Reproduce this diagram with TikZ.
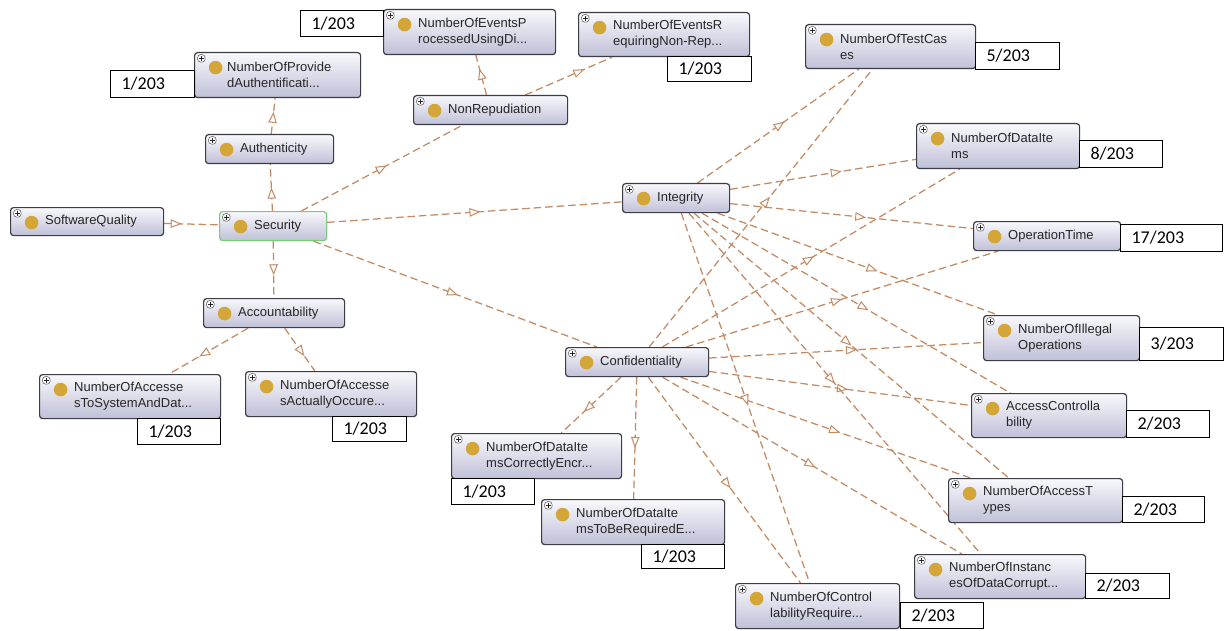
\documentclass[tikz,border=0pt]{standalone}
\usepackage{fontspec}
\newfontfamily\lblfont{Liberation Sans}
\newfontfamily\cntfont{Carlito}
\usetikzlibrary{arrows.meta,decorations.markings,backgrounds,calc}
\definecolor{edgecol}{RGB}{196,138,98}
\definecolor{boxtop}{RGB}{248,248,252}
\definecolor{boxbot}{RGB}{192,192,216}
\definecolor{boxline}{RGB}{60,60,70}
\definecolor{gold}{RGB}{212,165,55}
\definecolor{selgreen}{RGB}{120,205,120}
\tikzset{
  cls/.style={rectangle, rounded corners=3pt, draw=boxline, line width=1.2pt,
    top color=boxtop, bottom color=boxbot, anchor=north west, inner sep=0pt,
    path picture={
      \fill[gold] ([xshift=21pt,yshift=-15pt]path picture bounding box.north west) circle (6.8pt);
      \draw[line width=0.5pt, draw=black!70, fill=white]
        ([xshift=3pt,yshift=-2pt]path picture bounding box.north west) rectangle ++(7.5pt,-7.5pt);
      \draw[line width=0.7pt, draw=black!85]
        ([xshift=4.5pt,yshift=-5.75pt]path picture bounding box.north west) -- ++(4.5pt,0pt)
        ([xshift=6.75pt,yshift=-3.5pt]path picture bounding box.north west) -- ++(0pt,-4.5pt);
    }},
  lbl/.style={anchor=west, font=\lblfont\fontsize{13}{16}\selectfont, text=black!85,
    align=left, inner sep=0pt},
  cnt/.style={draw=black, line width=1.2pt, fill=white, anchor=north west,
    font=\cntfont\fontsize{18}{20}\selectfont, inner xsep=11pt, inner ysep=0pt, align=left},
  isa/.style={draw=edgecol, line width=1.25pt, dash pattern=on 7.5pt off 4pt,
    postaction={decorate, decoration={markings,
      mark=at position #1 with {\arrow[edgecol, line width=1pt]{Triangle[length=11pt, width=8.5pt, fill=white]}}}}},
  isa/.default=0.5
}
\begin{document}
\begin{tikzpicture}[x=1pt,y=-1pt]
\useasboundingbox (0,0) rectangle (1225,631);

% class nodes
\node[cls, minimum width=153pt, minimum height=28pt] (sq) at (10,207) {};
\node[lbl] at ([xshift=35pt]sq.west) {SoftwareQuality};
\node[cls, draw=selgreen, minimum width=107pt, minimum height=29pt] (sec) at (219,211) {};
\node[lbl] at ([xshift=35pt]sec.west) {Security};
\node[cls, minimum width=128pt, minimum height=29pt] (auth) at (205,134) {};
\node[lbl] at ([xshift=35pt]auth.west) {Authenticity};
\node[cls, minimum width=166pt, minimum height=45pt] (prov) at (194,52) {};
\node[lbl] at ([xshift=33pt]prov.west) {NumberOfProvide\\dAuthentificati...};
\node[cls, minimum width=154pt, minimum height=29pt] (nonrep) at (413,95) {};
\node[lbl] at ([xshift=35pt]nonrep.west) {NonRepudiation};
\node[cls, minimum width=172pt, minimum height=45pt] (evp) at (383,9) {};
\node[lbl] at ([xshift=35pt]evp.west) {NumberOfEventsP\\rocessedUsingDi...};
\node[cls, minimum width=171pt, minimum height=44pt] (evr) at (578,12) {};
\node[lbl] at ([xshift=35pt]evr.west) {NumberOfEventsR\\equiringNon-Rep...};
\node[cls, minimum width=141pt, minimum height=29pt] (acc) at (203,298) {};
\node[lbl] at ([xshift=35pt]acc.west) {Accountability};
\node[cls, minimum width=181pt, minimum height=44pt] (ats) at (39,374) {};
\node[lbl] at ([xshift=35pt]ats.west) {NumberOfAccesse\\sToSystemAndDat...};
\node[cls, minimum width=171pt, minimum height=45pt] (aao) at (245,371) {};
\node[lbl] at ([xshift=35pt]aao.west) {NumberOfAccesse\\sActuallyOccure...};
\node[cls, minimum width=107pt, minimum height=29pt] (int) at (622,183) {};
\node[lbl] at ([xshift=35pt]int.west) {Integrity};
\node[cls, minimum width=143pt, minimum height=29pt] (conf) at (565,347) {};
\node[lbl] at ([xshift=35pt]conf.west) {Confidentiality};
\node[cls, minimum width=170pt, minimum height=44pt] (tc) at (805,24) {};
\node[lbl] at ([xshift=35pt]tc.west) {NumberOfTestCas\\es};
\node[cls, minimum width=163pt, minimum height=45pt] (di) at (916,123) {};
\node[lbl] at ([xshift=35pt]di.west) {NumberOfDataIte\\ms};
\node[cls, minimum width=147pt, minimum height=29pt] (ot) at (973,221) {};
\node[lbl] at ([xshift=35pt]ot.west) {OperationTime};
\node[cls, minimum width=156pt, minimum height=45pt] (io) at (983,315) {};
\node[lbl] at ([xshift=35pt]io.west) {NumberOfIllegal\\Operations};
\node[cls, minimum width=155pt, minimum height=44pt] (acl) at (971,393) {};
\node[lbl] at ([xshift=35pt]acl.west) {AccessControlla\\bility};
\node[cls, minimum width=174pt, minimum height=44pt] (at) at (948,478) {};
\node[lbl] at ([xshift=35pt]at.west) {NumberOfAccessT\\ypes};
\node[cls, minimum width=171pt, minimum height=44pt] (ins) at (914,554) {};
\node[lbl] at ([xshift=35pt]ins.west) {NumberOfInstanc\\esOfDataCorrupt...};
\node[cls, minimum width=164pt, minimum height=45pt] (ctl) at (735,583) {};
\node[lbl] at ([xshift=35pt]ctl.west) {NumberOfControl\\labilityRequire...};
\node[cls, minimum width=170pt, minimum height=45pt] (dce) at (451,433) {};
\node[lbl] at ([xshift=35pt]dce.west) {NumberOfDataIte\\msCorrectlyEncr...};
\node[cls, minimum width=183pt, minimum height=45pt] (dtr) at (541,499) {};
\node[lbl] at ([xshift=35pt]dtr.west) {NumberOfDataIte\\msToBeRequiredE...};

% count boxes
\node[cnt, minimum height=27pt, text width=62pt] (c1) at (110,70) {1/203};
\node[cnt, minimum height=26pt, text width=61pt] (c2) at (300,10) {1/203};
\node[cnt, minimum height=25pt, text width=62pt] (c3) at (667,56) {1/203};
\node[cnt, minimum height=26pt, text width=61pt] (c4) at (137,418) {1/203};
\node[cnt, minimum height=25pt, text width=52pt] (c5) at (332,416) {1/203};
\node[cnt, minimum height=27pt, text width=62pt] (c6) at (975,42) {5/203};
\node[cnt, minimum height=27pt, text width=61pt] (c7) at (1079,140) {8/203};
\node[cnt, minimum height=27pt, text width=80pt] (c8) at (1120,224) {17/203};
\node[cnt, minimum height=33pt, text width=62pt] (c9) at (1139,327) {3/203};
\node[cnt, minimum height=27pt, text width=61pt] (c10) at (1126,410) {2/203};
\node[cnt, minimum height=26pt, text width=60pt] (c11) at (1122,496) {2/203};
\node[cnt, minimum height=25pt, text width=62pt] (c12) at (1085,573) {2/203};
\node[cnt, minimum height=26pt, text width=61pt] (c13) at (900,602) {2/203};
\node[cnt, minimum height=26pt, text width=61pt] (c14) at (451,478) {1/203};
\node[cnt, minimum height=24pt, text width=61pt] (c15) at (641,544) {1/203};

% connectors
\begin{pgfonlayer}{background}
\fill[white] (0,0) rectangle (1225,631);
\draw[isa=0.32] (sq) -- (sec);
\draw[isa=0.5] (sec) -- (auth);
\draw[isa=0.62] (auth) -- (prov);
\draw[isa=0.6] (sec) -- (acc);
\draw[isa=0.62] (acc) -- (ats);
\draw[isa=0.65] (acc) -- (aao);
\draw[isa=0.53] (sec) -- (nonrep);
\draw[isa=0.66] (nonrep) -- (evp);
\draw[isa=0.68] (nonrep) -- (evr);
\draw[isa=0.52] (sec) -- (int);
\draw[isa=0.51] (sec) -- (conf);
\draw[isa=0.54] (int) -- (tc);
\draw[isa=0.54] (conf) -- (tc);
\draw[isa=0.6] (int) -- (di);
\draw[isa=0.51] (conf) -- (di);
\draw[isa=0.56] (int) -- (ot);
\draw[isa=0.5] (conf) -- (ot);
\draw[isa=0.57] (int) -- (io);
\draw[isa=0.54] (conf) -- (io);
\draw[isa=0.54] (int) -- (acl);
\draw[isa=0.53] (conf) -- (acl);
\draw[isa=0.5] (int) -- (at);
\draw[isa=0.55] (conf) -- (at);
\draw[isa=0.5] (int) -- (ins);
\draw[isa=0.51] (conf) -- (ins);
\draw[isa=0.52] (int) -- (ctl);
\draw[isa=0.54] (conf) -- (ctl);
\draw[isa=0.62] (conf) -- (dce);
\draw[isa=0.58] (conf) -- (dtr);
\end{pgfonlayer}
\end{tikzpicture}
\end{document}
